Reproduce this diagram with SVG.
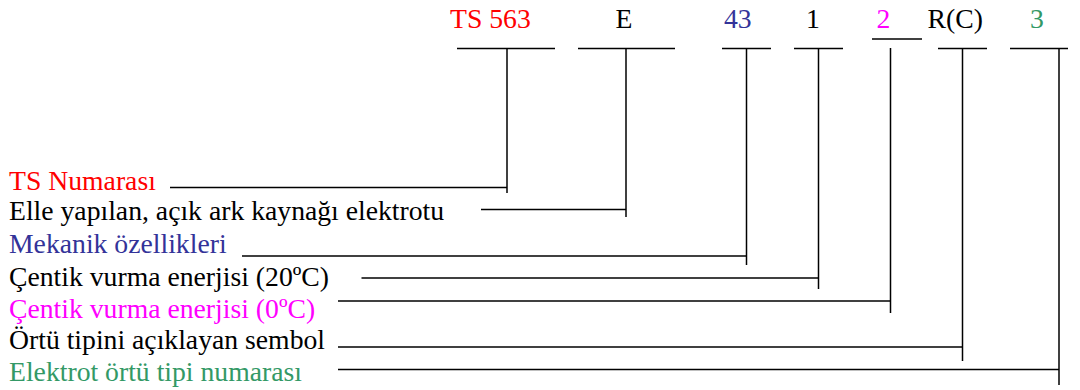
<svg xmlns="http://www.w3.org/2000/svg" width="1080" height="390" viewBox="0 0 1080 390">
<style>
text{font-family:"Liberation Serif","Times New Roman",serif;font-size:27.7px;fill:#000}
.red{fill:#FF0000}.blue{fill:#333399}.mag{fill:#FF00FF}.green{fill:#339966}
line,polyline{stroke:#000;stroke-width:1.5;fill:none}
</style>
<rect width="1080" height="390" fill="#fff"/>
<g id="code-ts"><text class="red" x="450" y="27.5">TS 563</text><line x1="457" y1="48.5" x2="555" y2="48.5"/></g>
<g id="code-e"><text x="615.5" y="27.5">E</text><line x1="578" y1="48.5" x2="675" y2="48.5"/></g>
<g id="code-43"><text class="blue" x="724" y="27.5">43</text><line x1="722" y1="48.5" x2="771" y2="48.5"/></g>
<g id="code-1"><text x="806" y="27.5">1</text><line x1="794" y1="48.5" x2="843" y2="48.5"/></g>
<g id="code-2"><text class="mag" x="876.5" y="27.5">2</text><line x1="872" y1="39" x2="922" y2="39"/></g>
<g id="code-rc"><text x="927.5" y="27.5">R(C)</text><line x1="938" y1="48.5" x2="987" y2="48.5"/></g>
<g id="code-3"><text class="green" x="1030" y="27.5">3</text><line x1="1010" y1="48.5" x2="1068" y2="48.5"/></g>
<g id="label-ts"><text class="red" x="9" y="190">TS Numarası</text></g>
<g id="label-e"><text x="9" y="220">Elle yapılan, açık ark kaynağı elektrotu</text></g>
<g id="label-43"><text class="blue" x="9" y="253">Mekanik özellikleri</text></g>
<g id="label-1"><text x="9" y="286">Çentik vurma enerjisi (20ºC)</text></g>
<g id="label-2"><text class="mag" x="9" y="318">Çentik vurma enerjisi (0ºC)</text></g>
<g id="label-rc"><text x="9" y="349">Örtü tipini açıklayan sembol</text></g>
<g id="label-3"><text class="green" x="9" y="381">Elektrot örtü tipi numarası</text></g>
<g id="connectors">
<polyline points="170,187.5 507,187.5"/><line x1="507" y1="48.5" x2="507" y2="193"/>
<polyline points="481,209.5 626,209.5"/><line x1="626" y1="48.5" x2="626" y2="217"/>
<polyline points="242,256 746.5,256"/><line x1="746.5" y1="48.5" x2="746.5" y2="265"/>
<polyline points="361.5,278 818.5,278"/><line x1="818.5" y1="48.5" x2="818.5" y2="289"/>
<polyline points="338,301 890.5,301"/><line x1="890.5" y1="48" x2="890.5" y2="313"/>
<polyline points="338,347 962.5,347"/><line x1="962.5" y1="48.5" x2="962.5" y2="361"/>
<polyline points="338,369.5 1059,369.5"/><line x1="1059" y1="48.5" x2="1059" y2="385"/>
</g>
</svg>
